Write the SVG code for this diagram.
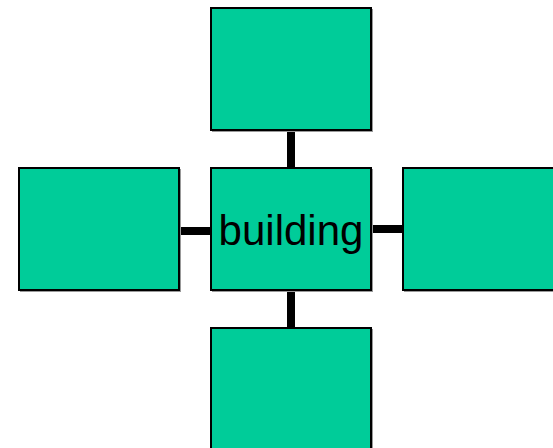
<svg xmlns="http://www.w3.org/2000/svg" width="553" height="448" viewBox="0 0 553 448">
<style>
.box{fill:#00CC99;stroke:#000;stroke-width:2}
.sh{fill:#999}
.conn{stroke:#000;stroke-width:8}
text{font-family:"Liberation Sans",Arial,sans-serif;font-size:42px;fill:#000}
</style>
<rect width="553" height="448" fill="#fff"/>
<g id="connectors">
<line class="conn" x1="291" y1="130" x2="291" y2="168"/>
<line class="conn" x1="291" y1="290" x2="291" y2="328"/>
<line class="conn" x1="179" y1="231" x2="211" y2="231"/>
<line class="conn" x1="371" y1="229" x2="403" y2="229"/>
</g>
<g id="top"><rect class="sh" x="212" y="9" width="161" height="123"/><rect class="box" x="211" y="8" width="160" height="122"/></g>
<g id="left"><rect class="sh" x="20" y="169" width="161" height="123"/><rect class="box" x="19" y="168" width="160" height="122"/></g>
<g id="center"><rect class="sh" x="212" y="169" width="161" height="123"/><rect class="box" x="211" y="168" width="160" height="122"/><text x="291" y="245" text-anchor="middle">building</text></g>
<g id="right"><rect class="sh" x="404" y="169" width="161" height="123"/><rect class="box" x="403" y="168" width="160" height="122"/></g>
<g id="bottom"><rect class="sh" x="212" y="329" width="161" height="123"/><rect class="box" x="211" y="328" width="160" height="122"/></g>
</svg>
